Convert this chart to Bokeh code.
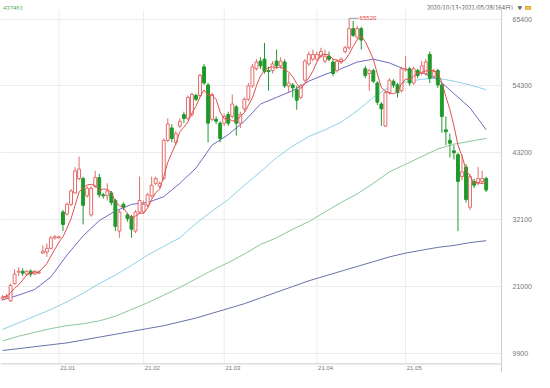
import numpy as np
import pandas as pd
from bokeh.plotting import figure
from bokeh.layouts import column
from bokeh.models import FixedTicker, ColumnDataSource, Range1d, Span, Div
from bokeh.embed import file_html
from bokeh.resources import INLINE
from bokeh.core.properties import value

# ---------------- data ----------------
opens = [18940, 19100, 18620, 21480, 23380, 23540, 23060, 23540, 23060, 23220,
         26550, 26710, 27340, 29090, 29090, 33370, 33050, 34640, 36540, 38920,
         38920, 36060, 32890, 37650, 39080, 36220, 36060, 36540, 35270, 30200,
         34640, 32890, 32580, 30200, 33370, 33370, 34480, 36060, 38130, 37650,
         38920, 45260, 47320, 44940, 47640, 49540, 48910, 49540, 52710, 52710,
         57470, 54460, 48750, 48750, 48120, 48120, 49540, 49230, 50810, 48120,
         50490, 52080, 54300, 57150, 58420, 58740, 56840, 56840, 58420, 57630,
         58260, 54300, 54460, 53670, 52400, 55250, 57950, 58740, 58740, 59220,
         58420, 59220, 58260, 56840, 58260, 60010, 60640, 63810, 62390, 63810,
         57150, 56360, 56840, 54780, 51290, 47640, 53190, 55090, 54460, 53510,
         57000, 57150, 54780, 56840, 56360, 56360, 59530, 55890, 56840, 54460,
         47010, 45260, 43520, 42880, 39240, 40820, 34160, 38440, 38130, 38440,
         38920]
highs = [19570, 19730, 21480, 23850, 24170, 24010, 23700, 23850, 23700, 23700,
         27820, 28140, 29410, 29560, 29410, 33690, 34950, 37170, 40820, 42570,
         39240, 37650, 37650, 40190, 39710, 36540, 38130, 36860, 35590, 33690,
         34950, 33210, 32890, 33690, 39240, 35270, 36540, 39240, 39240, 38440,
         45580, 48910, 47960, 46850, 48910, 50020, 52710, 53190, 53030, 56360,
         57950, 54780, 53190, 49230, 48430, 49700, 50020, 52870, 51130, 50020,
         52400, 54780, 57950, 58740, 59060, 61440, 57470, 58420, 60330, 59060,
         58740, 56360, 54780, 54300, 54620, 58740, 60010, 60330, 60010, 60640,
         60330, 60010, 58740, 58740, 59060, 60960, 65520, 65080, 64290, 64130,
         57630, 57150, 57150, 55090, 51600, 53510, 55570, 55410, 54780, 57470,
         59220, 57470, 57470, 57150, 58420, 58740, 60010, 57150, 57150, 54780,
         49230, 46370, 44470, 43200, 42880, 41300, 39710, 38920, 40820, 40190,
         39240]
lows = [18620, 18940, 18460, 21320, 22740, 22740, 22740, 22590, 22900, 23060,
        26390, 25920, 27180, 28770, 28930, 30200, 32730, 34320, 36380, 38600,
        31310, 35750, 32580, 37330, 35750, 35590, 35270, 34480, 30200, 29090,
        33690, 31780, 29090, 29880, 33050, 33050, 34160, 35750, 37810, 37330,
        38600, 44940, 44940, 44470, 47320, 48120, 48590, 49230, 51760, 52400,
        54460, 44940, 48430, 47960, 44940, 47640, 47640, 48910, 46050, 47320,
        50020, 51760, 53980, 56840, 57150, 56360, 53510, 56360, 57150, 57150,
        53980, 53190, 52400, 50340, 52080, 54930, 57630, 58420, 58420, 58900,
        58110, 58420, 55890, 56520, 57950, 59690, 60330, 62390, 61910, 60330,
        55570, 53510, 54780, 51130, 47640, 47480, 52870, 53980, 52400, 53190,
        56680, 54300, 54460, 55570, 56040, 56040, 54780, 55570, 53980, 46530,
        44470, 42410, 42090, 30200, 38600, 34950, 33690, 37330, 37810, 38130,
        36700]
closes = [19260, 19410, 21160, 23060, 23540, 23220, 23540, 23060, 23540, 23380,
          26870, 27340, 29090, 29250, 29250, 31310, 34640, 36860, 40190, 40500,
          34480, 37330, 37330, 39080, 36220, 36060, 36860, 34950, 30990, 33370,
          34160, 32260, 30510, 33370, 35270, 34640, 36220, 37810, 38920, 38130,
          45260, 47960, 45580, 46370, 48430, 48910, 52400, 52870, 52080, 56040,
          54780, 48120, 52870, 48430, 45580, 49230, 48120, 51290, 48120, 49540,
          52080, 54300, 57470, 58260, 57630, 56680, 56680, 57950, 57630, 58420,
          54300, 54780, 53980, 51920, 54300, 58420, 59530, 59530, 59530, 60010,
          59220, 58740, 56360, 58420, 58740, 60640, 63810, 62700, 63810, 61910,
          56040, 56840, 55090, 51600, 50490, 53190, 55250, 54460, 53190, 57150,
          57150, 54780, 57150, 56040, 57630, 58260, 55570, 56680, 54460, 49230,
          46690, 44790, 43200, 38440, 40030, 35430, 39240, 37810, 38920, 38920,
          37020]

# moving averages at every 4th candle
ma_idx = list(range(0, 121, 4))
ma20 = [18780, 19570, 20520, 22590, 26230, 29410, 31940, 33530, 34640, 34950,
        35910, 38130, 40660, 44470, 46210, 48430, 51290, 52400, 53510, 55090,
        56200, 57150, 58260, 58740, 58110, 57000, 56520, 55410, 53030, 50650, 47010]
ma60 = [13860, 14970, 16080, 17190, 18460, 19890, 21480, 22900, 24490, 26230,
        27660, 29090, 31470, 33530, 35430, 37810, 40030, 42410, 44310, 45900,
        47010, 48270, 50180, 52400, 54140, 54930, 55410, 55570, 55090, 54460, 53660]
ma120 = [11960, 12750, 13390, 14020, 14500, 14820, 15290, 16080, 17190, 18300,
         19570, 20840, 22270, 23700, 24960, 26390, 27980, 29090, 30510, 31780,
         33370, 34950, 36380, 38130, 40030, 41300, 42570, 43830, 44630, 45100, 45580]
ma240 = [10380, 10690, 11010, 11330, 11640, 12120, 12600, 13070, 13550, 14020,
         14500, 15130, 15770, 16560, 17350, 18150, 19100, 20050, 21000, 21950,
         22740, 23540, 24330, 25120, 25920, 26550, 27030, 27500, 27820, 28290, 28610]

month_idx = [14, 35, 55, 78, 100]
month_labels = ["21.01", "21.02", "21.03", "21.04", "21.05"]
y_ticks = [9900, 21000, 32100, 43200, 54300, 65400]
code_text = "437461"
period_text = "2020/10/13~2021/05/28(164日)"

# ---------------- layout / styling ----------------
UP = "#e46c6a"
DOWN = "#1f9a2a"
GRID = "#ececec"
FRAME = "#cdcdcd"
W = 534
HEAD_H = 9
H = 363
Y_TOP, Y_BOT = 66985, 6727        # visible price span of the canvas
FRAME_BOT = 8156                  # bottom rule of the price pane
LABEL_Y = 7442                    # month label strip

df = pd.DataFrame(dict(o=opens, h=highs, l=lows, c=closes))
df["i"] = np.arange(len(df))
df["up"] = df["c"] >= df["o"]
df["col"] = np.where(df["up"], UP, DOWN)
df["ma5"] = df["c"].rolling(5, min_periods=1).mean()
up = ColumnDataSource(df[df["up"]])
dn = ColumnDataSource(df[~df["up"]])
allsrc = ColumnDataSource(df)

p = figure(width=W, height=H, x_range=Range1d(-0.5, 123.8), y_range=Range1d(Y_BOT, Y_TOP),
           output_backend="svg", toolbar_location=None, y_axis_location="right",
           x_axis_location=None,
           min_border_left=0, min_border_right=31, min_border_top=0, min_border_bottom=0)
p.background_fill_color = "white"
p.border_fill_color = "white"
p.outline_line_color = None

p.xgrid.grid_line_color = None
p.ygrid.ticker = FixedTicker(ticks=y_ticks)
p.ygrid.grid_line_color = GRID

yax = p.yaxis[0]
yax.ticker = FixedTicker(ticks=y_ticks)
yax.major_label_overrides = {t: str(t) for t in y_ticks}
yax.axis_line_color = FRAME
yax.major_tick_line_color = None
yax.minor_tick_line_color = None
yax.major_label_text_font_size = "7px"
yax.major_label_text_color = "#777777"
yax.major_label_text_font = "Liberation Sans"
yax.major_label_standoff = 5

# month grid lines, bottom rule and month labels
p.segment(x0=month_idx, y0=FRAME_BOT, x1=month_idx, y1=Y_TOP, line_color=GRID, line_width=1)
p.add_layout(Span(location=FRAME_BOT, dimension="width", line_color=FRAME, line_width=1))
p.text(x=[m + 0.3 for m in month_idx], y=LABEL_Y, text=month_labels, text_color="#777777",
       text_font=value("Liberation Sans"), text_font_size="6px", text_baseline="middle",
       text_align="left")

# moving averages
p.line(ma_idx, ma240, line_color="#6674a6", line_width=1)
p.line(ma_idx, ma120, line_color="#8cc69a", line_width=1)
p.line(ma_idx, ma60, line_color="#8fd0e6", line_width=1)
p.line(ma_idx, ma20, line_color="#6c6cc4", line_width=1)

# candles
p.segment(x0="i", y0="l", x1="i", y1="h", line_color="col", line_width=1, source=allsrc)
p.vbar(x="i", width=0.72, top="o", bottom="c", fill_color=DOWN, line_color=DOWN, source=dn)
p.vbar(x="i", width=0.72, top="c", bottom="o", fill_color="white", line_color=UP, source=up)

p.line("i", "ma5", line_color="#e05050", line_width=1, source=allsrc)

# max annotation
imax = int(np.argmax(highs))
hmax = highs[imax]
p.segment(x0=[imax], y0=[hmax], x1=[imax + 2.3], y1=[hmax], line_color="#999999", line_width=1)
p.text(x=[imax + 2.6], y=[hmax], text=[str(hmax)], text_color="#e04040",
       text_font=value("Liberation Sans"), text_font_size="6px", text_baseline="middle")

# header strip
head_html = (
    f'<div style="position:relative;width:{W}px;height:{HEAD_H - 1}px;'
    f'border-bottom:1px solid {FRAME};font-family:\'Liberation Sans\';font-size:6px;'
    f'line-height:{HEAD_H - 1}px;white-space:nowrap;overflow:hidden;">'
    f'<span style="position:absolute;left:3px;top:0;color:#4aa84a;">{code_text}</span>'
    f'<span style="position:absolute;right:21px;top:0;color:#555555;text-decoration:underline;'
    f'font-family:\'Noto Sans CJK SC\';">{period_text}</span>'
    f'<span style="position:absolute;right:12px;top:0;color:#666666;font-family:\'DejaVu Sans\';">&#9660;</span>'
    f'<span style="position:absolute;right:3px;top:2px;width:6px;height:4px;'
    f'background:#f2c94c;border:1px solid #d9a520;"></span>'
    f'</div>'
)
head = Div(text=head_html, width=W, height=HEAD_H, margin=0)

layout = column(head, p, spacing=0, margin=0)
open("out.html", "w").write(file_html(layout, INLINE))
